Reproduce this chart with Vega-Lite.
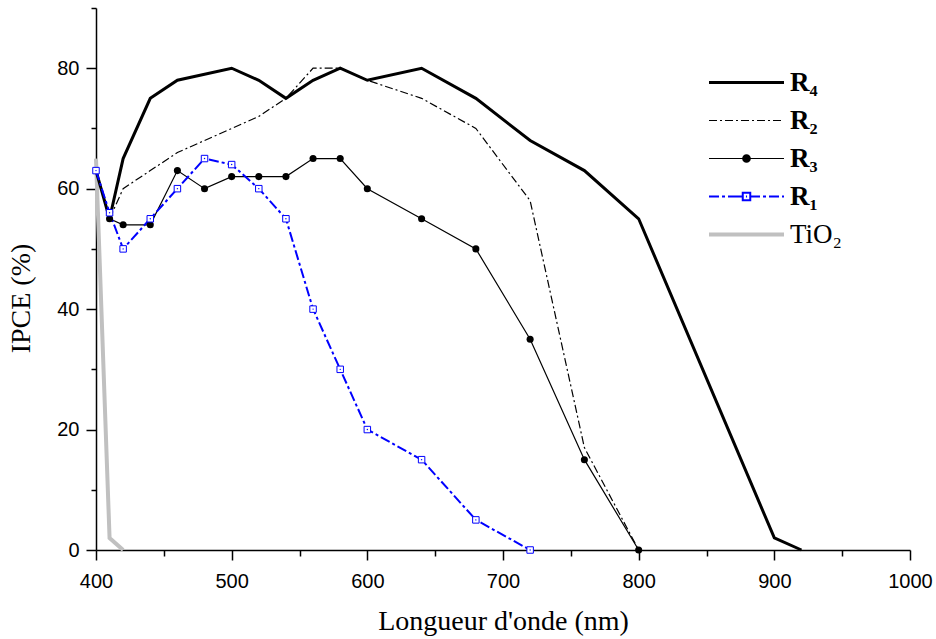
{
  "$schema": "https://vega.github.io/schema/vega-lite/v6.json",
  "width": 814,
  "height": 542,
  "autosize": "none",
  "padding": {"left": 96, "top": 8, "right": 26, "bottom": 89},
  "background": "white",
  "config": {"view": {"stroke": null}},
  "data": {
    "values": [
      {"series": "TiO₂", "wl": 400, "ipce": 65},
      {"series": "TiO₂", "wl": 410, "ipce": 2},
      {"series": "TiO₂", "wl": 420, "ipce": 0},
      {"series": "R₄", "wl": 400, "ipce": 63},
      {"series": "R₄", "wl": 410, "ipce": 55},
      {"series": "R₄", "wl": 420, "ipce": 65},
      {"series": "R₄", "wl": 440, "ipce": 75},
      {"series": "R₄", "wl": 460, "ipce": 78},
      {"series": "R₄", "wl": 500, "ipce": 80},
      {"series": "R₄", "wl": 520, "ipce": 78},
      {"series": "R₄", "wl": 540, "ipce": 75},
      {"series": "R₄", "wl": 560, "ipce": 78},
      {"series": "R₄", "wl": 580, "ipce": 80},
      {"series": "R₄", "wl": 600, "ipce": 78},
      {"series": "R₄", "wl": 640, "ipce": 80},
      {"series": "R₄", "wl": 680, "ipce": 75},
      {"series": "R₄", "wl": 720, "ipce": 68},
      {"series": "R₄", "wl": 760, "ipce": 63},
      {"series": "R₄", "wl": 800, "ipce": 55},
      {"series": "R₄", "wl": 900, "ipce": 2},
      {"series": "R₄", "wl": 920, "ipce": 0},
      {"series": "R₂", "wl": 410, "ipce": 55},
      {"series": "R₂", "wl": 420, "ipce": 60},
      {"series": "R₂", "wl": 440, "ipce": 63},
      {"series": "R₂", "wl": 460, "ipce": 66},
      {"series": "R₂", "wl": 480, "ipce": 68},
      {"series": "R₂", "wl": 500, "ipce": 70},
      {"series": "R₂", "wl": 520, "ipce": 72},
      {"series": "R₂", "wl": 540, "ipce": 75},
      {"series": "R₂", "wl": 560, "ipce": 80},
      {"series": "R₂", "wl": 580, "ipce": 80},
      {"series": "R₂", "wl": 600, "ipce": 78},
      {"series": "R₂", "wl": 640, "ipce": 75},
      {"series": "R₂", "wl": 680, "ipce": 70},
      {"series": "R₂", "wl": 720, "ipce": 58},
      {"series": "R₂", "wl": 760, "ipce": 17},
      {"series": "R₂", "wl": 800, "ipce": 0},
      {"series": "R₃", "wl": 410, "ipce": 55},
      {"series": "R₃", "wl": 420, "ipce": 54},
      {"series": "R₃", "wl": 440, "ipce": 54},
      {"series": "R₃", "wl": 460, "ipce": 63},
      {"series": "R₃", "wl": 480, "ipce": 60},
      {"series": "R₃", "wl": 500, "ipce": 62},
      {"series": "R₃", "wl": 520, "ipce": 62},
      {"series": "R₃", "wl": 540, "ipce": 62},
      {"series": "R₃", "wl": 560, "ipce": 65},
      {"series": "R₃", "wl": 580, "ipce": 65},
      {"series": "R₃", "wl": 600, "ipce": 60},
      {"series": "R₃", "wl": 640, "ipce": 55},
      {"series": "R₃", "wl": 680, "ipce": 50},
      {"series": "R₃", "wl": 720, "ipce": 35},
      {"series": "R₃", "wl": 760, "ipce": 15},
      {"series": "R₃", "wl": 800, "ipce": 0},
      {"series": "R₁", "wl": 400, "ipce": 63},
      {"series": "R₁", "wl": 410, "ipce": 56},
      {"series": "R₁", "wl": 420, "ipce": 50},
      {"series": "R₁", "wl": 440, "ipce": 55},
      {"series": "R₁", "wl": 460, "ipce": 60},
      {"series": "R₁", "wl": 480, "ipce": 65},
      {"series": "R₁", "wl": 500, "ipce": 64},
      {"series": "R₁", "wl": 520, "ipce": 60},
      {"series": "R₁", "wl": 540, "ipce": 55},
      {"series": "R₁", "wl": 560, "ipce": 40},
      {"series": "R₁", "wl": 580, "ipce": 30},
      {"series": "R₁", "wl": 600, "ipce": 20},
      {"series": "R₁", "wl": 640, "ipce": 15},
      {"series": "R₁", "wl": 680, "ipce": 5},
      {"series": "R₁", "wl": 720, "ipce": 0}
    ]
  },
  "layer": [
    {
      "encoding": {
        "x": {
          "field": "wl", "type": "quantitative",
          "scale": {"domain": [400, 1000], "nice": false, "zero": false},
          "axis": {
            "orient": "bottom",
            "values": [400, 500, 600, 700, 800, 900, 1000], "format": "d",
            "grid": false, "domainColor": "black", "domainWidth": 1.5,
            "tickColor": "black", "tickWidth": 1.5, "tickSize": 10,
            "labelFont": "Liberation Sans", "labelFontSize": 20, "labelColor": "black", "labelPadding": 11,
            "labelFlush": false,
            "title": "Longueur d'onde (nm)", "titleFont": "Liberation Serif", "titleFontSize": 28,
            "titleFontWeight": "normal", "titleColor": "black", "titlePadding": 16
          }
        },
        "y": {
          "field": "ipce", "type": "quantitative",
          "scale": {"domain": [0, 90], "nice": false},
          "axis": {
            "orient": "left",
            "values": [0, 20, 40, 60, 80],
            "grid": false, "domainColor": "black", "domainWidth": 1.5,
            "tickColor": "black", "tickWidth": 1.5, "tickSize": 10,
            "labelFont": "Liberation Sans", "labelFontSize": 20, "labelColor": "black", "labelPadding": 7,
            "title": "IPCE (%)", "titleFont": "Liberation Serif", "titleFontSize": 28,
            "titleFontWeight": "normal", "titleColor": "black",
            "titleX": -67, "titleY": 290, "titleBaseline": "alphabetic"
          }
        }
      },
      "layer": [
        {
          "transform": [{"filter": "datum.series === 'TiO₂'"}],
          "mark": {"type": "line", "color": "#c0c0c0", "strokeWidth": 4}
        },
        {
          "transform": [{"filter": "datum.series === 'R₄'"}],
          "mark": {"type": "line", "color": "black", "strokeWidth": 3}
        },
        {
          "transform": [{"filter": "datum.series === 'R₂'"}],
          "mark": {"type": "line", "color": "black", "strokeWidth": 1.2, "strokeDash": [8, 3, 2, 3]}
        },
        {
          "transform": [{"filter": "datum.series === 'R₃'"}],
          "mark": {"type": "line", "color": "black", "strokeWidth": 1.2}
        },
        {
          "transform": [{"filter": "datum.series === 'R₁'"}],
          "mark": {"type": "line", "color": "#0000ff", "strokeWidth": 2, "strokeDash": [10, 3, 3, 3]}
        },
        {
          "transform": [{"filter": "datum.series === 'R₃'"}],
          "mark": {"type": "point", "shape": "circle", "filled": true, "color": "black", "size": 50, "opacity": 1}
        },
        {
          "transform": [{"filter": "datum.series === 'R₁'"}],
          "mark": {"type": "point", "shape": "square", "filled": false, "fill": "white", "stroke": "#0000ff", "strokeWidth": 1, "size": 42, "opacity": 1}
        },
        {
          "transform": [{"filter": "datum.series === 'R₁'"}],
          "mark": {"type": "point", "shape": "circle", "filled": true, "color": "#0000ff", "size": 2, "opacity": 1}
        },
        {
          "transform": [{"filter": "false"}],
          "mark": {"type": "point", "filled": false, "opacity": 1},
          "encoding": {
            "color": {
              "field": "series", "type": "nominal",
              "scale": {"domain": ["R₄", "R₂", "R₃", "R₁", "TiO₂"], "range": ["black", "black", "black", "#0000ff", "#c0c0c0"]},
              "legend": {
                "orient": "none", "legendX": 611, "legendY": 61, "title": null, "padding": 0,
                "symbolSize": 5625, "rowPadding": 10, "clipHeight": 27,
                "labelFont": "Liberation Serif", "labelFontSize": 27, "labelColor": "black", "labelOffset": 4,
                "labelFontWeight": {"expr": "datum.value === 'TiO₂' ? 'normal' : 'bold'"}
              }
            },
            "strokeWidth": {
              "field": "series", "type": "nominal",
              "scale": {"type": "ordinal", "domain": ["R₄", "R₂", "R₃", "R₁", "TiO₂"], "range": [3, 1.2, 1.2, 2, 4]}
            },
            "shape": {
              "field": "series", "type": "nominal",
              "scale": {"domain": ["R₄", "R₂", "R₃", "R₁", "TiO₂"], "range": [
                "M-1,0H1",
                "M-1,0H-0.787M-0.707,0H-0.653M-0.573,0H-0.36M-0.28,0H-0.227M-0.147,0H0.067M0.147,0H0.2M0.28,0H0.493M0.573,0H0.627M0.707,0H0.92",
                "M-1,0H1M-0.1,0a0.1,0.1 0 1,0 0.2,0a0.1,0.1 0 1,0 -0.2,0M-0.07,0a0.07,0.07 0 1,0 0.14,0a0.07,0.07 0 1,0 -0.14,0M-0.04,0a0.04,0.04 0 1,0 0.08,0a0.04,0.04 0 1,0 -0.08,0M-0.015,0a0.015,0.015 0 1,0 0.03,0a0.015,0.015 0 1,0 -0.03,0",
                "M-1,0H-0.733M-0.653,0H-0.573M-0.493,0H-0.1M-0.1,-0.1H0.1V0.1H-0.1ZM0.1,0H0.36M0.44,0H0.52M0.6,0H0.867M0.947,0H1M-0.015,0H0.015",
                "M-1,0H1"
              ]}
            }
          }
        }
      ]
    },
    {
      "mark": {"type": "point", "opacity": 0},
      "encoding": {
        "x": {
          "field": "wl", "type": "quantitative",
          "axis": {"orient": "bottom", "values": [450, 550, 650, 750, 850, 950], "labels": false, "domain": false, "grid": false,
                   "tickColor": "black", "tickWidth": 1.5, "tickSize": 6, "title": null}
        },
        "y": {
          "field": "ipce", "type": "quantitative",
          "axis": {"orient": "left", "values": [10, 30, 50, 70, 90], "labels": false, "domain": false, "grid": false,
                   "tickColor": "black", "tickWidth": 1.5, "tickSize": 5, "title": null}
        }
      }
    }
  ],
  "resolve": {"axis": {"x": "independent", "y": "independent"}}
}
